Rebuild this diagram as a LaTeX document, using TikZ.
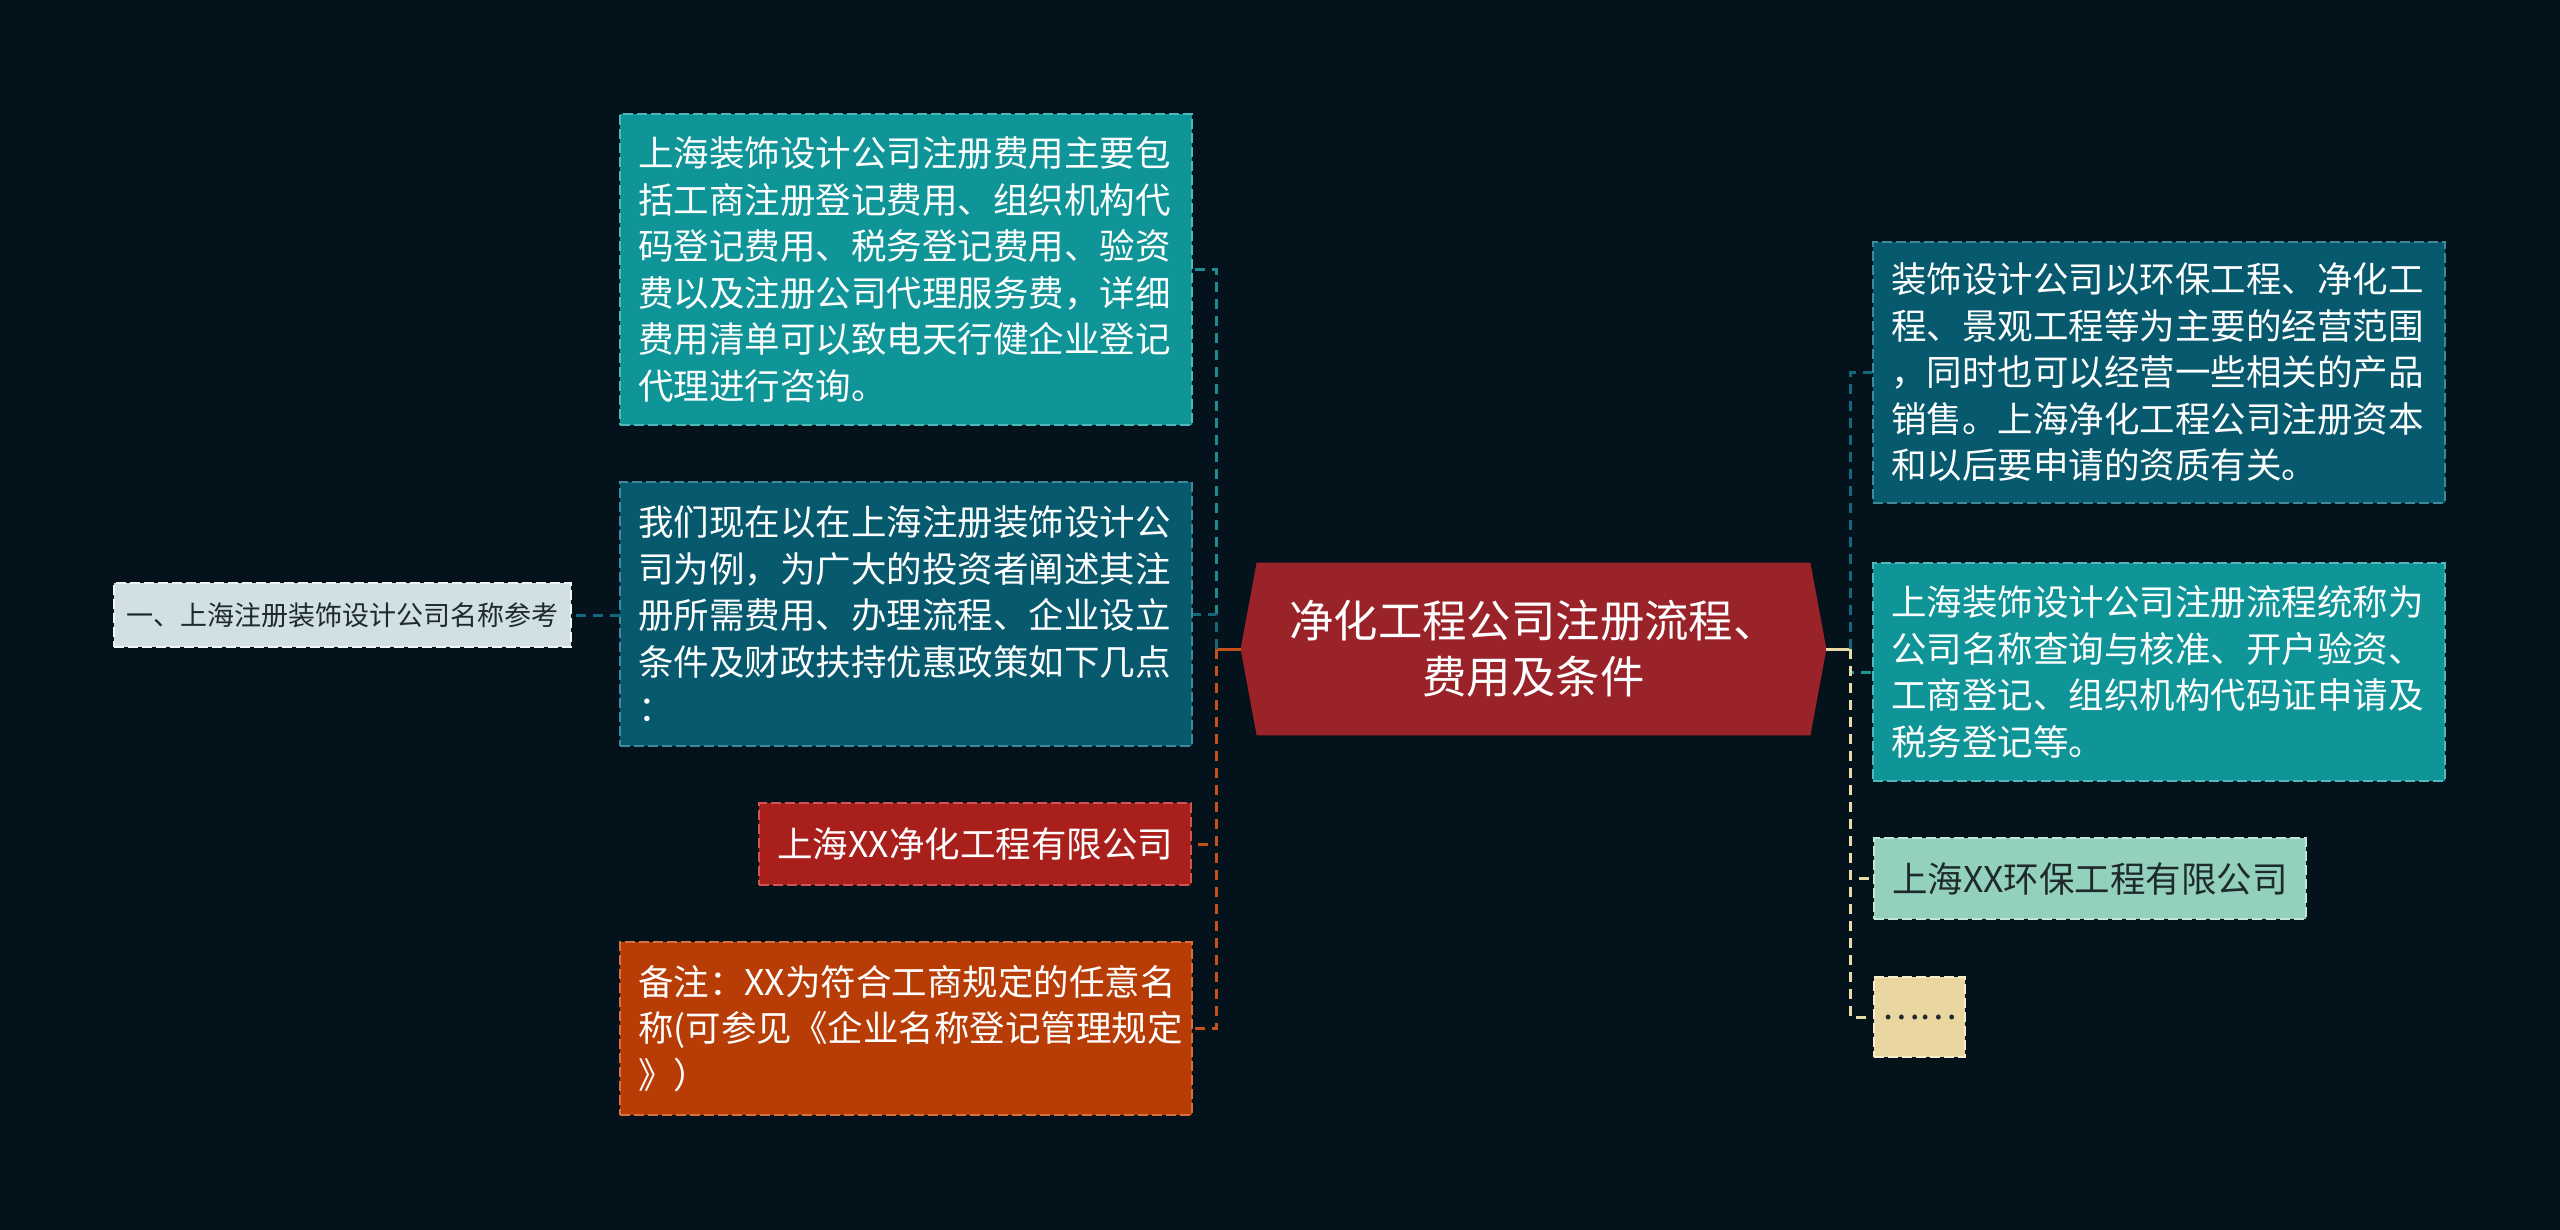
\documentclass[tikz,border=0pt]{standalone}
\usepackage{fontspec}
\newfontfamily\cjk{Noto Sans CJK SC}
\usetikzlibrary{calc,backgrounds}
\definecolor{bgc}{HTML}{04121B}
\definecolor{tealA}{HTML}{0F9497}
\definecolor{tealAb}{HTML}{4FB8B8}
\definecolor{tealB}{HTML}{075A6E}
\definecolor{tealBb}{HTML}{3E8A9A}
\definecolor{redC}{HTML}{A91F1B}
\definecolor{redCb}{HTML}{D0574F}
\definecolor{orD}{HTML}{B83C05}
\definecolor{orDb}{HTML}{DA7040}
\definecolor{ctrc}{HTML}{9A2229}
\definecolor{mintG}{HTML}{93D1BC}
\definecolor{mintGb}{HTML}{C0E6DA}
\definecolor{sandH}{HTML}{EAD6A0}
\definecolor{sandHb}{HTML}{F8EDCB}
\definecolor{leafc}{HTML}{D0E0E3}
\definecolor{leafb}{HTML}{F0F6F7}
\definecolor{darktext}{HTML}{1E2A2C}
\definecolor{cA}{HTML}{1C8C92}
\definecolor{cB}{HTML}{14677A}
\definecolor{cC}{HTML}{C4521C}
\definecolor{cF}{HTML}{1A9696}
\definecolor{cream}{HTML}{E9DBA8}
\begin{document}
\begin{tikzpicture}[x=0.5pt,y=-0.5pt,
  box/.style={rectangle, inner xsep=9pt, inner ysep=0pt,
    font=\cjk\fontsize{17.75}{23.25}\selectfont, text=white,
    line width=1pt, dash pattern=on 5pt off 2pt},
  wide/.style={text width=268pt, align=left, minimum width=286pt},
  conn/.style={line width=1.5pt, dash pattern=on 5pt off 3.5pt},
  stem/.style={line width=1.5pt},
]
\useasboundingbox (0,0) rectangle (2560,1230);

% left side
\node[box,wide,fill=tealA,draw=tealAb,minimum height=155.5pt] (A) at (906,269.5)
{上海装饰设计公司注册费用主要包\\括工商注册登记费用、组织机构代\\码登记费用、税务登记费用、验资\\费以及注册公司代理服务费，详细\\费用清单可以致电天行健企业登记\\代理进行咨询。};

\node[box,wide,fill=tealB,draw=tealBb,minimum height=132pt] (B) at (906,614)
{我们现在以在上海注册装饰设计公\\司为例，为广大的投资者阐述其注\\册所需费用、办理流程、企业设立\\条件及财政扶持优惠政策如下几点\\：};

\node[box,fill=redC,draw=redCb,minimum height=41pt,minimum width=212.5pt,anchor=east] (C) at (1192,844)
{上海XX净化工程有限公司};

\node[box,wide,fill=orD,draw=orDb,minimum height=86.5pt] (D) at (906,1028.5)
{备注：XX为符合工商规定的任意名\\称(可参见《企业名称登记管理规定\\》）};

\node[box,fill=leafc,draw=leafb,text=darktext,minimum width=228.5pt,minimum height=32pt,
  inner xsep=6pt,font=\cjk\fontsize{13.5}{16}\selectfont] (leaf) at (342.5,615)
{一、上海注册装饰设计公司名称参考};

% center
\node[font=\cjk\fontsize{22.2}{28}\selectfont, text=white, align=center,
  minimum width=276.5pt, minimum height=86pt, inner sep=0pt] (ctr) at (1533.5,649)
{净化工程公司注册流程、\\费用及条件};
\coordinate (ctrL) at ($(ctr.west)+(-16,0)$);
\coordinate (ctrR) at ($(ctr.east)+(16,0)$);

% right side
\node[box,wide,fill=tealB,draw=tealBb,minimum height=130.5pt] (E) at (2159,372.5)
{装饰设计公司以环保工程、净化工\\程、景观工程等为主要的经营范围\\，同时也可以经营一些相关的产品\\销售。上海净化工程公司注册资本\\和以后要申请的资质有关。};

\node[box,wide,fill=tealA,draw=tealAb,minimum height=109pt] (F) at (2159,672)
{上海装饰设计公司注册流程统称为\\公司名称查询与核准、开户验资、\\工商登记、组织机构代码证申请及\\税务登记等。};

\node[box,fill=mintG,draw=mintGb,text=darktext,minimum height=40.5pt,anchor=west] (G) at (1873,878.5)
{上海XX环保工程有限公司};

\node[box,fill=sandH,draw=sandHb,text=darktext,minimum height=40pt,minimum width=45.5pt,
  inner xsep=4pt,anchor=west] (H) at (1873,1017)
{……};

% background and center shape
\begin{scope}[on background layer]
\fill[bgc] (0,0) rectangle (2560,1230);
\fill[ctrc] (ctr.north west) -- (ctr.north east) -- (ctrR) -- (ctr.south east)
  -- (ctr.south west) -- (ctrL) -- cycle;
\end{scope}

% connectors left
\draw[stem,draw=cC] (ctrL) -- ++(-24,0) coordinate (jl);
\draw[conn,draw=cA] (jl) |- (A.east);
\draw[conn,draw=cB] (jl) |- (B.east);
\draw[conn,draw=cC] (jl) |- (C.east);
\draw[conn,draw=cC] (jl) |- (D.east);
\draw[conn,draw=cB] (B.west) -- (leaf.east -| B.west) -- (leaf.east);

% connectors right
\draw[stem,draw=cream] (ctrR) -- ++(24,0) coordinate (jr);
\draw[conn,draw=cB] (jr) |- (E.west);
\draw[conn,draw=cF] (jr) |- (F.west);
\draw[conn,draw=cream] (jr) |- (G.west);
\draw[conn,draw=cream] (jr) |- (H.west);
\end{tikzpicture}
\end{document}
